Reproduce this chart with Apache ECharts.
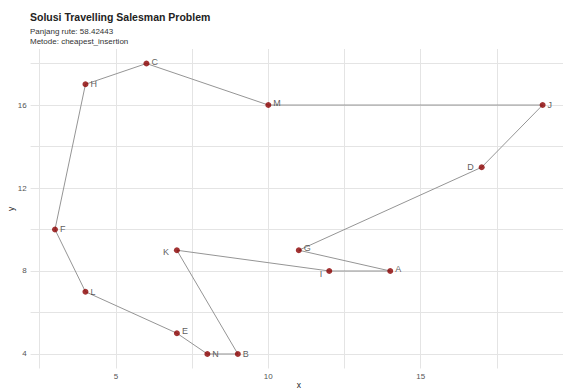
<!DOCTYPE html>
<html>
<head>
<meta charset="utf-8">
<script src="https://cdn.jsdelivr.net/npm/echarts@6/dist/echarts.min.js"></script>
<style>
html,body{margin:0;padding:0;background:#fff;}
#chart{width:563px;height:389px;}
</style>
</head>
<body>
<div id="chart"></div>
<script>
// Data
const cityNames = ['A','B','C','D','E','F','G','H','I','J','K','L','M','N'];
const cityX = [14, 9, 6, 17, 7, 3, 11, 4, 12, 19, 7, 4, 10, 8];
const cityY = [8, 4, 18, 13, 5, 10, 9, 17, 8, 16, 9, 7, 16, 4];
const route = ['H','C','M','J','D','G','A','I','K','B','N','E','L','F','H'];
const xTickLabels = [5, 10, 15];
const yTickLabels = [4, 8, 12, 16];
const xGridValues = [2.5, 5, 7.5, 10, 12.5, 15, 17.5];
const yGridValues = [4, 6, 8, 10, 12, 14, 16, 18];
const titleText = 'Solusi Travelling Salesman Problem';
const subtitleLines = ['Panjang rute: 58.42443', 'Metode: cheapest_insertion'];

// label placement (style only)
const labelLeft = {D: [-3, 0], I: [-2, 3], K: [-3, 2]};
const labelUp = {C: [0, -2], M: [0, -2], A: [0, -2], G: [0, -2], E: [0, -2]};

const idx = {};
cityNames.forEach((n, i) => idx[n] = i);

const routeData = route.map(n => [cityX[idx[n]], cityY[idx[n]]]);
const pointData = cityNames.map((n, i) => {
  const d = {value: [cityX[i], cityY[i]], name: n};
  if (labelLeft[n]) {
    d.label = {position: 'left', offset: labelLeft[n]};
  } else if (labelUp[n]) {
    d.label = {position: 'right', offset: labelUp[n]};
  }
  return d;
});

const gridColor = '#e4e4e4';
const chart = echarts.init(document.getElementById('chart'), null, {renderer: 'svg'});
chart.setOption({
  animation: false,
  backgroundColor: '#ffffff',
  textStyle: {fontFamily: 'Liberation Sans, Arial, sans-serif'},
  graphic: [
    {type: 'text', left: 30, top: 11, style: {text: titleText, fontSize: 10.5, fontWeight: 'bold', fill: '#222', fontFamily: 'Liberation Sans'}},
    {type: 'text', left: 30, top: 27, style: {text: subtitleLines[0], fontSize: 8, fill: '#333', fontFamily: 'Liberation Sans'}},
    {type: 'text', left: 30, top: 37, style: {text: subtitleLines[1], fontSize: 8, fill: '#333', fontFamily: 'Liberation Sans'}}
  ],
  grid: {left: 30.6, right: -4, top: 49, bottom: 20.5, containLabel: false, outerBoundsMode: 'none'},
  xAxis: {
    type: 'value', min: 2.2, max: 19.8,
    splitLine: {show: false}, axisLine: {show: false}, axisTick: {show: false},
    axisLabel: {customValues: xTickLabels, fontSize: 8, color: '#555', margin: 4},
    name: 'x', nameLocation: 'middle', nameGap: 12, nameMoveOverlap: false,
    nameTextStyle: {fontSize: 8.5, color: '#222'}
  },
  yAxis: {
    type: 'value', min: 3.3, max: 18.7,
    splitLine: {show: false}, axisLine: {show: false}, axisTick: {show: false},
    axisLabel: {customValues: yTickLabels, fontSize: 8, color: '#555', margin: 4},
    name: 'y', nameLocation: 'middle', nameGap: 15, nameRotate: 90, nameMoveOverlap: false,
    nameTextStyle: {fontSize: 8.5, color: '#222'}
  },
  series: [
    {
      type: 'scatter', data: [], silent: true, z: 0,
      markLine: {
        silent: true, z: 0, symbol: ['none', 'none'], label: {show: false},
        lineStyle: {color: gridColor, width: 1, type: 'solid'},
        data: xGridValues.map(v => ({xAxis: v})).concat(yGridValues.map(v => ({yAxis: v})))
      }
    },
    {
      type: 'line', data: routeData, symbol: 'none', z: 2,
      lineStyle: {color: '#959595', width: 1}
    },
    {
      type: 'scatter', data: pointData, symbolSize: 6, z: 3,
      itemStyle: {color: '#8b0000'},
      label: {show: true, formatter: p => p.name, position: 'right', distance: 2,
        fontSize: 9, color: '#333'}
    }
  ]
});
</script>
</body>
</html>
